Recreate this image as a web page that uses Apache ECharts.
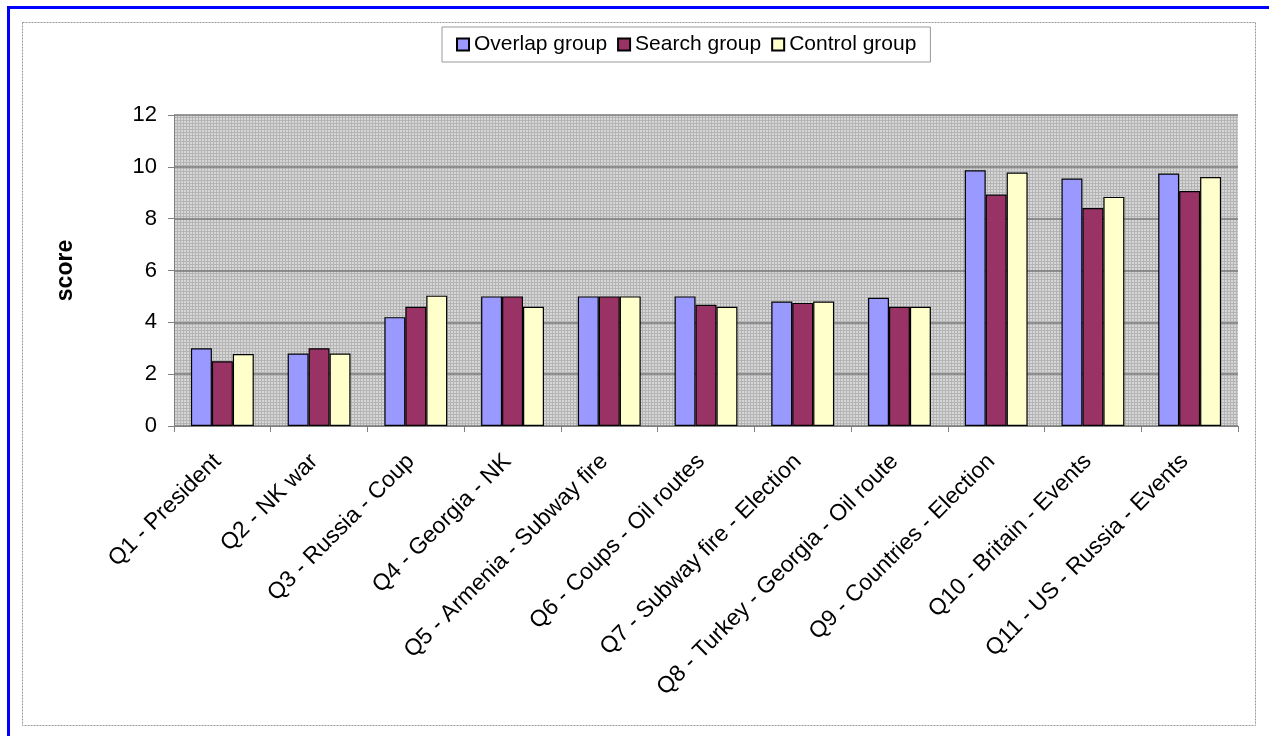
<!DOCTYPE html>
<html>
<head>
<meta charset="utf-8">
<script src="https://cdn.jsdelivr.net/npm/echarts@6/dist/echarts.min.js"></script>
<style>
html,body{margin:0;padding:0;background:#fff;}
#chart{width:1269px;height:736px;}
</style>
</head>
<body>
<div id="chart"></div>
<script>
const categories = [
  'Q1 - President', 'Q2 - NK war', 'Q3 - Russia - Coup', 'Q4 - Georgia - NK',
  'Q5 - Armenia - Subway fire', 'Q6 - Coups - Oil routes', 'Q7 - Subway fire - Election',
  'Q8 - Turkey - Georgia - Oil route', 'Q9 - Countries - Election',
  'Q10 - Britain - Events', 'Q11 - US - Russia - Events'
];
const overlapGroup = [3.0, 2.8, 4.2, 5.0, 5.0, 5.0, 4.8, 4.95, 9.87, 9.55, 9.74];
const searchGroup  = [2.5, 3.0, 4.6, 5.0, 5.0, 4.68, 4.75, 4.6, 8.93, 8.41, 9.07];
const controlGroup = [2.78, 2.8, 5.03, 4.6, 5.0, 4.6, 4.8, 4.6, 9.78, 8.84, 9.61];
const seriesNames = ['Overlap group', 'Search group', 'Control group'];
const yTicks = { min: 0, max: 12, interval: 2 };

// hatched gray plot background
const pc = document.createElement('canvas');
pc.width = 3; pc.height = 3;
const pctx = pc.getContext('2d');
pctx.fillStyle = '#b4b4b4'; pctx.fillRect(0, 0, 3, 3);
pctx.fillStyle = '#d6d6d6'; pctx.fillRect(1, 1, 2, 2);

const FONT = "'Liberation Sans', Arial, sans-serif";
const chart = echarts.init(document.getElementById('chart'));

const barStyle = (c) => ({ color: c, borderColor: '#000', borderWidth: 1.2 });

chart.setOption({
  animation: false,
  textStyle: { fontFamily: FONT, color: '#000' },
  graphic: [
    { type: 'rect', shape: { x: 22.5, y: 22.5, width: 1233, height: 703 }, style: { fill: 'none', stroke: '#999', lineWidth: 1, lineDash: [2, 1] }, silent: true },
    { type: 'line', shape: { x1: 7, y1: 7.5, x2: 1269, y2: 7.5 }, style: { stroke: '#0000ff', lineWidth: 3 }, silent: true },
    { type: 'line', shape: { x1: 8.5, y1: 6, x2: 8.5, y2: 736 }, style: { stroke: '#0000ff', lineWidth: 3 }, silent: true }
  ],
  legend: {
    left: 442, top: 27,
    padding: [7, 14],
    itemGap: 10,
    itemWidth: 12, itemHeight: 12,
    icon: 'rect',
    borderColor: '#999', borderWidth: 1,
    textStyle: { fontSize: 21, fontFamily: FONT, color: '#000' },
    data: seriesNames
  },
  grid: {
    left: 174, right: 31, top: 115, bottom: 310,
    show: true,
    backgroundColor: { image: pc, repeat: 'repeat' },
    borderWidth: 0
  },
  xAxis: {
    type: 'category',
    data: categories,
    axisLine: { lineStyle: { color: '#808080', width: 1 } },
    axisTick: { show: true, length: 6, lineStyle: { color: '#808080' } },
    axisLabel: { interval: 0, rotate: 45, fontSize: 23, margin: 27, padding: [0, 7, 0, 0], color: '#000', fontFamily: FONT },
    splitLine: { show: false }
  },
  yAxis: {
    type: 'value',
    min: yTicks.min, max: yTicks.max, interval: yTicks.interval,
    name: 'score',
    nameLocation: 'middle',
    nameRotate: 90,
    nameGap: 97,
    nameTextStyle: { fontSize: 23, fontWeight: 'bold', color: '#000', fontFamily: FONT },
    axisLine: { show: true, lineStyle: { color: '#808080', width: 1 } },
    axisTick: { show: true, length: 6, lineStyle: { color: '#808080' } },
    axisLabel: { fontSize: 22, margin: 17, color: '#000', fontFamily: FONT },
    splitLine: { show: true, lineStyle: { color: '#7a7a7a', width: 1.5 } }
  },
  series: [
    { name: seriesNames[0], type: 'bar', data: overlapGroup, barGap: '0%', barCategoryGap: '35%', itemStyle: barStyle('#9999ff') },
    { name: seriesNames[1], type: 'bar', data: searchGroup, barGap: '0%', barCategoryGap: '35%', itemStyle: barStyle('#993366') },
    { name: seriesNames[2], type: 'bar', data: controlGroup, barGap: '0%', barCategoryGap: '35%', itemStyle: barStyle('#ffffcc') }
  ]
});
</script>
</body>
</html>
